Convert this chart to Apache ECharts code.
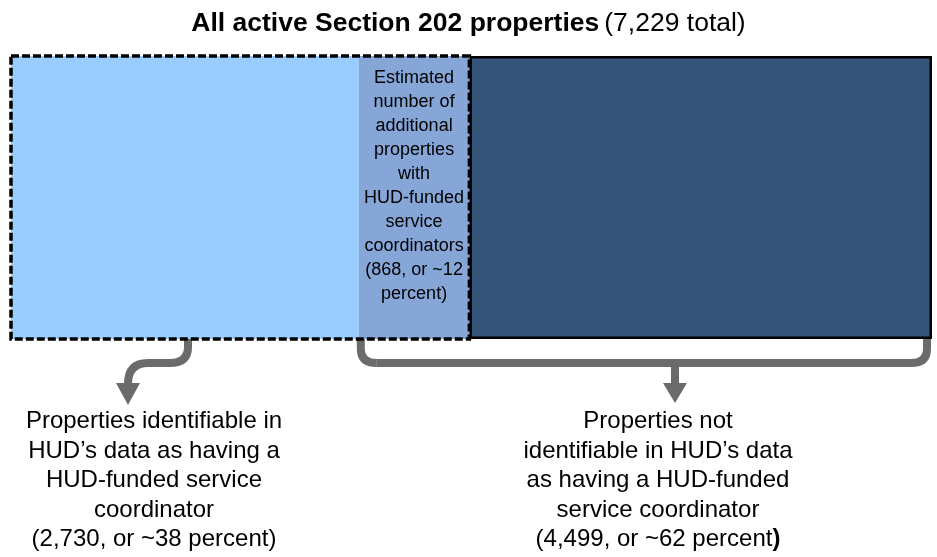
<!DOCTYPE html>
<html>
<head>
<meta charset="utf-8">
<script src="https://cdn.jsdelivr.net/npm/echarts@6/dist/echarts.min.js"></script>
<style>
  html, body { margin: 0; padding: 0; background: #fff; }
  #chart { width: 937px; height: 557px; }
</style>
</head>
<body>
<div id="chart"></div>
<script>
// property counts (total 7,229)
const categories = ['Section 202']
const identified = [2730]
const estimatedExtra = [868]
const notIdentifiedRest = [3631]   // 4,499 - 868
const total = 7229

const titleBold = 'All active Section 202 properties'
const titleNormal = '(7,229 total)'
const middleLines = ['Estimated', 'number of', 'additional', 'properties', 'with', 'HUD-funded', 'service', 'coordinators', '(868, or ~12', 'percent)']
const leftLines = ['Properties identifiable in', 'HUD\u2019s data as having a', 'HUD-funded service', 'coordinator', '(2,730, or ~38 percent)']
const rightLines = ['Properties not', 'identifiable in HUD\u2019s data', 'as having a HUD-funded', 'service coordinator', '(4,499, or ~62 percent']

const font = '"Liberation Sans", Arial, sans-serif'
const grey = '#6b6b6b'

let chart = echarts.init(document.getElementById('chart'))

let option = {
    animation: false,
    title: {
        text: '{b|' + titleBold + '} {n|' + titleNormal + '}',
        left: 'center',
        top: 5,
        textStyle: {
            rich: {
                b: { fontFamily: font, fontSize: 26.5, fontWeight: 'bold', color: '#000' },
                n: { fontFamily: font, fontSize: 26.5, fontWeight: 'normal', color: '#000' }
            }
        }
    },
    grid: { left: 11, right: 5, top: 56, bottom: 218 },
    xAxis: { type: 'value', min: 0, max: total, show: false },
    yAxis: { type: 'category', data: categories, show: false },
    series: [
        {
            type: 'bar', stack: 'all', data: identified, barWidth: '100%',
            itemStyle: { color: '#99ccff' }
        },
        {
            type: 'bar', stack: 'all', data: estimatedExtra, barWidth: '100%',
            itemStyle: { color: '#85a6d7' },
            label: {
                show: true, position: 'inside', offset: [0, -11],
                formatter: middleLines.join('\n'),
                fontFamily: font, fontSize: 18, lineHeight: 24, color: '#000'
            }
        },
        {
            type: 'bar', stack: 'all', data: notIdentifiedRest, barWidth: '100%',
            itemStyle: { color: '#345579', borderColor: '#000', borderWidth: 2.5 }
        }
    ]
}
chart.setOption(option)

// positions from the axes
let x0 = chart.convertToPixel({ gridIndex: 0 }, [0, 0])[0]
let x1 = chart.convertToPixel({ gridIndex: 0 }, [identified[0], 0])[0]
let x2 = chart.convertToPixel({ gridIndex: 0 }, [identified[0] + estimatedExtra[0], 0])[0]
let x3 = chart.convertToPixel({ gridIndex: 0 }, [total, 0])[0]
let boxTop = 56, boxBottom = 339

let arrowStyle = { fill: null, stroke: grey, lineWidth: 8 }
let bl = x1 + 2, br = x3 - 5, braceY = 363, ax = 675

let graphics = [
    // dashed box around properties with coordinators
    {
        type: 'rect', z: 100,
        shape: { x: x0, y: boxTop, width: x2 - x0, height: boxBottom - boxTop },
        style: { fill: null, stroke: '#000', lineWidth: 3.5, lineDash: [8, 3] }
    },
    // left curved arrow
    { type: 'line', z: 90, shape: { x1: 188, y1: 339, x2: 188, y2: 347 }, style: arrowStyle },
    { type: 'bezierCurve', z: 90, shape: { x1: 188, y1: 347, cpx1: 188, cpy1: 363, x2: 170, y2: 363 }, style: arrowStyle },
    { type: 'line', z: 90, shape: { x1: 170, y1: 363, x2: 148, y2: 363 }, style: arrowStyle },
    { type: 'bezierCurve', z: 90, shape: { x1: 148, y1: 363, cpx1: 128, cpy1: 363, x2: 128, y2: 384 }, style: arrowStyle },
    { type: 'polygon', z: 90, shape: { points: [[116, 383], [140, 383], [128, 405]] }, style: { fill: grey } },
    // right brace
    { type: 'line', z: 90, shape: { x1: bl, y1: boxBottom, x2: bl, y2: 349 }, style: arrowStyle },
    { type: 'bezierCurve', z: 90, shape: { x1: bl, y1: 349, cpx1: bl, cpy1: braceY, x2: bl + 16, y2: braceY }, style: arrowStyle },
    { type: 'line', z: 90, shape: { x1: bl + 16, y1: braceY, x2: br - 16, y2: braceY }, style: arrowStyle },
    { type: 'bezierCurve', z: 90, shape: { x1: br - 16, y1: braceY, cpx1: br, cpy1: braceY, x2: br, y2: 349 }, style: arrowStyle },
    { type: 'line', z: 90, shape: { x1: br, y1: 349, x2: br, y2: boxBottom }, style: arrowStyle },
    { type: 'line', z: 90, shape: { x1: ax, y1: braceY, x2: ax, y2: 384 }, style: arrowStyle },
    { type: 'polygon', z: 90, shape: { points: [[ax - 12, 383], [ax + 12, 383], [ax, 403]] }, style: { fill: grey } },
    // bottom texts
    {
        type: 'text', z: 90, x: 154, y: 407,
        style: { text: leftLines.join('\n'), font: '24px ' + font, fill: '#000', align: 'center', lineHeight: 29.5 }
    },
    {
        type: 'text', z: 90, x: 658, y: 407,
        style: {
            text: rightLines.slice(0, 4).join('\n') + '\n' + rightLines[4] + '{b|)}',
            font: '24px ' + font, fill: '#000', align: 'center', lineHeight: 29.5,
            rich: { b: { fontFamily: font, fontSize: 24, fontWeight: 'bold', fill: '#000' } }
        }
    }
]
chart.setOption({ graphic: graphics })
</script>
</body>
</html>
